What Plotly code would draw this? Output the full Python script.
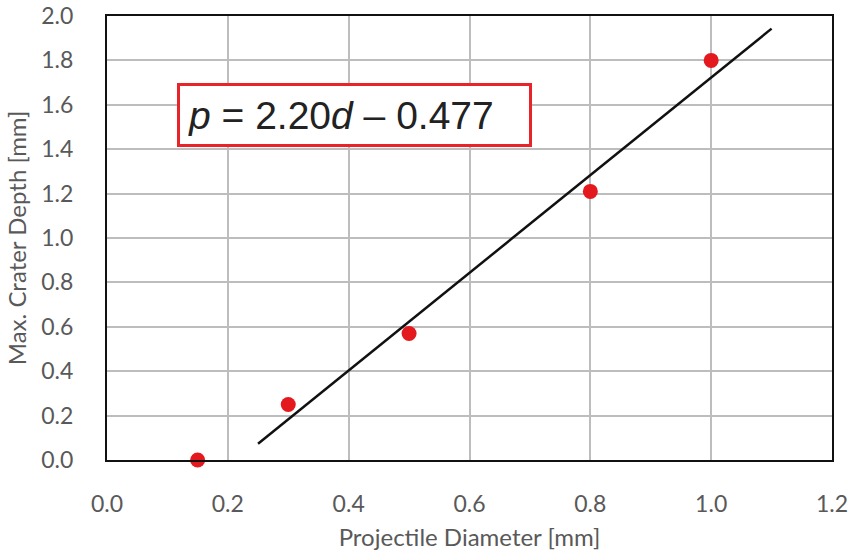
import plotly.graph_objects as go

diameter = [0.15, 0.30, 0.50, 0.80, 1.00]
depth = [0.00, 0.25, 0.57, 1.21, 1.80]
fit_slope = 2.20
fit_intercept = -0.477
fit_x = [0.25, 1.10]
fit_y = [fit_slope * x + fit_intercept for x in fit_x]

x_ticks = [0.0, 0.2, 0.4, 0.6, 0.8, 1.0, 1.2]
y_ticks = [0.0, 0.2, 0.4, 0.6, 0.8, 1.0, 1.2, 1.4, 1.6, 1.8, 2.0]

fig = go.Figure()
fig.add_trace(go.Scatter(x=fit_x, y=fit_y, mode="lines",
                         line=dict(color="#111111", width=2.5), showlegend=False))
fig.add_trace(go.Scatter(x=diameter, y=depth, mode="markers",
                         marker=dict(color="#e3191e", size=15), showlegend=False,
                         cliponaxis=False))

font_tick = dict(family="Lato", size=23, color="#595959")
font_title = dict(family="Lato", size=24, color="#595959")

fig.update_layout(
    width=850, height=556,
    margin=dict(l=107, r=18, t=16, b=96),
    paper_bgcolor="white", plot_bgcolor="white",
    xaxis=dict(range=[0, 1.2], tickvals=x_ticks, ticktext=[f"{v:.1f}" for v in x_ticks],
               showgrid=True, gridcolor="#bdbdbd", gridwidth=2,
               showline=True, linecolor="#111111", linewidth=2, mirror=True,
               ticks="outside", ticklen=22, tickcolor="rgba(0,0,0,0)",
               tickfont=font_tick, zeroline=False, automargin=False,
               title=dict(text="Projectile Diameter [mm]", font=font_title, standoff=14)),
    yaxis=dict(range=[0, 2.0], tickvals=y_ticks, ticktext=[f"{v:.1f}" for v in y_ticks],
               showgrid=True, gridcolor="#bdbdbd", gridwidth=2,
               showline=True, linecolor="#111111", linewidth=2, mirror=True,
               ticks="outside", ticklen=27, tickcolor="rgba(0,0,0,0)",
               tickfont=font_tick, zeroline=False, automargin=False,
               title=dict(text="Max. Crater Depth [mm]", font=font_title, standoff=8)),
)

fig.add_annotation(
    xref="paper", yref="paper", x=(177 - 107) / 725, y=(460 - 83) / 444,
    xanchor="left", yanchor="top",
    text="<i>p</i> = 2.20<i>d</i> – 0.477",
    showarrow=False,
    font=dict(family="Liberation Sans", size=39, color="#222222"),
    bordercolor="#e8232a", borderwidth=3, borderpad=8, bgcolor="white",
    width=333, height=42, align="left",
)

fig.write_html("out.html")
